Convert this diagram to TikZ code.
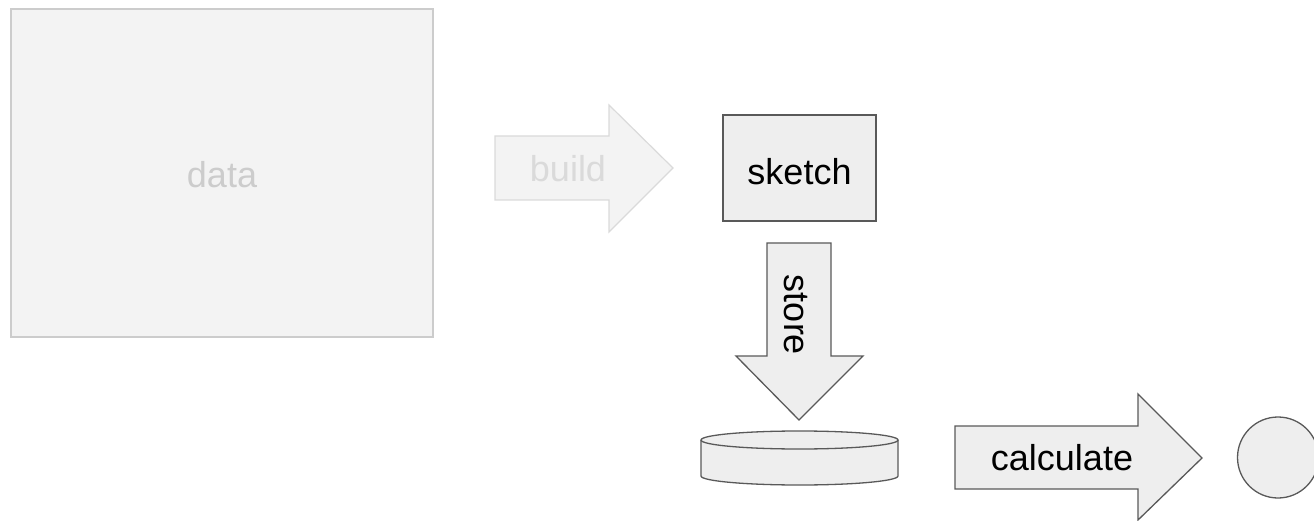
\documentclass[tikz,border=0pt]{standalone}
\usepackage{fontspec}
\setmainfont{Liberation Sans}
\definecolor{lightfill}{HTML}{F3F3F3}
\definecolor{lightline}{HTML}{CCCCCC}
\definecolor{paleline}{HTML}{DADADA}
\definecolor{boxfill}{HTML}{EEEEEE}
\definecolor{darkline}{HTML}{595959}
\begin{document}
\begin{tikzpicture}[x=1pt,y=-1pt,
  ghost/.style={fill=lightfill,draw=lightline,line width=1.5pt},
  ghostarrow/.style={fill=lightfill,draw=paleline,line width=1.2pt,line join=miter},
  solid/.style={fill=boxfill,draw=darkline,line width=1.3pt,line join=miter},
  lbl/.style={font=\fontsize{36}{40}\selectfont,inner sep=0pt}]
\useasboundingbox (0,0) rectangle (1314,521);
\clip (0,0) rectangle (1314,521);
% data box
\draw[ghost] (11,9) rectangle (433,337);
\node[lbl,text=lightline] (data) at (222,175) {data};
% build arrow
\draw[ghostarrow] (495,136) -- (609,136) -- (609,105) -- (673,168) -- (609,232) -- (609,200) -- (495,200) -- cycle;
\node[lbl,text=paleline] (build) at (568,169) {build};
% sketch box
\draw[solid] (723,115) rectangle (876,221);
\node[lbl] (sketch) at (799.5,172) {sketch};
% store arrow
\draw[solid] (767,243) -- (831,243) -- (831,356) -- (863,356) -- (799,420) -- (736,356) -- (767,356) -- cycle;
\node[lbl,rotate=-90] (store) at (796,315) {store};
% cylinder
\draw[solid] (701,440) -- (701,476) arc[start angle=180,end angle=0,x radius=98.5,y radius=9] -- (898,440);
\draw[solid] (799.5,440) ellipse[x radius=98.5,y radius=9];
\coordinate (db) at (799.5,460);
% calculate arrow
\draw[solid] (955,426) -- (1138,426) -- (1138,394) -- (1202,458) -- (1138,520) -- (1138,489) -- (955,489) -- cycle;
\node[lbl] (calc) at (1062,458) {calculate};
% result circle
\node[solid,circle,minimum size=81pt,inner sep=0pt] (result) at (1278,457.5) {};
\end{tikzpicture}
\end{document}
